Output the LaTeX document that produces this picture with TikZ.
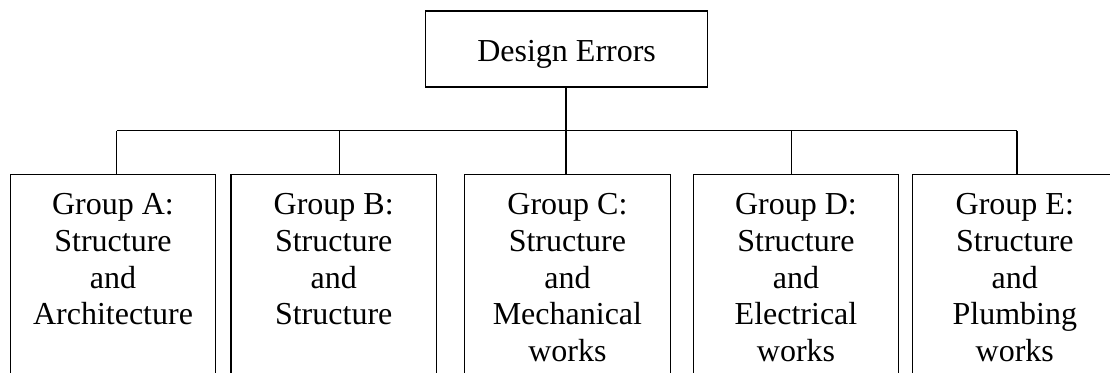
\documentclass[tikz,border=0pt]{standalone}
\usepackage{fontspec}
\setmainfont{Liberation Serif}
\begin{document}
\begin{tikzpicture}[x=1pt,y=-1pt,line width=1.1pt,
  grp/.style={draw,rectangle,inner sep=0pt,anchor=north west,
    minimum width=205.5pt,minimum height=240pt},
  grptext/.style={font=\fontsize{32}{36.7}\selectfont,align=center,
    inner sep=0pt,anchor=north},
  root/.style={draw,rectangle,inner sep=0pt,minimum width=281.8pt,
    minimum height=76pt,text height=24pt,text depth=0pt,
    font=\fontsize{32}{36.7}\selectfont}]
\useasboundingbox (0,0) rectangle (1110,372);
\clip (0,0) rectangle (1110,372);

% root box
\node[root] (top) at (566.6,49) {Design Errors};

% group boxes (they run past the lower edge)
\node[grp] (bA) at (9.7,173.5) {};
\node[grp] (bB) at (230.4,173.5) {};
\node[grp] (bC) at (464.1,173.5) {};
\node[grp] (bD) at (692.7,173.5) {};
\node[grp] (bE) at (911.5,173.5) {};

% line on which the group texts start
\coordinate (ytxt) at (0,193);

\node[grptext] (tA) at (bA.north |- ytxt) {Group A:\\Structure\\and\\Architecture};
\node[grptext] (tB) at (bB.north |- ytxt) {Group B:\\Structure\\and\\Structure};
\node[grptext] (tC) at (bC.north |- ytxt) {Group C:\\Structure\\and\\Mechanical\\works};
\node[grptext] (tD) at (bD.north |- ytxt) {Group D:\\Structure\\and\\Electrical\\works};
\node[grptext] (tE) at (bE.north |- ytxt) {Group E:\\Structure\\and\\Plumbing\\works};

% junctions on the distribution bar
\coordinate (jA) at (116.8,130.5);
\coordinate (jB) at (339.1,130.5);
\coordinate (jC) at (566,130.5);
\coordinate (jD) at (791.5,130.5);
\coordinate (jE) at (1017,130.5);

\draw (top.south -| jC) -- (jC);
\draw (jA) -- (jE);
\foreach \g in {A,B,C,D,E}
  \draw (j\g) -- (j\g |- b\g.north);
\end{tikzpicture}
\end{document}
